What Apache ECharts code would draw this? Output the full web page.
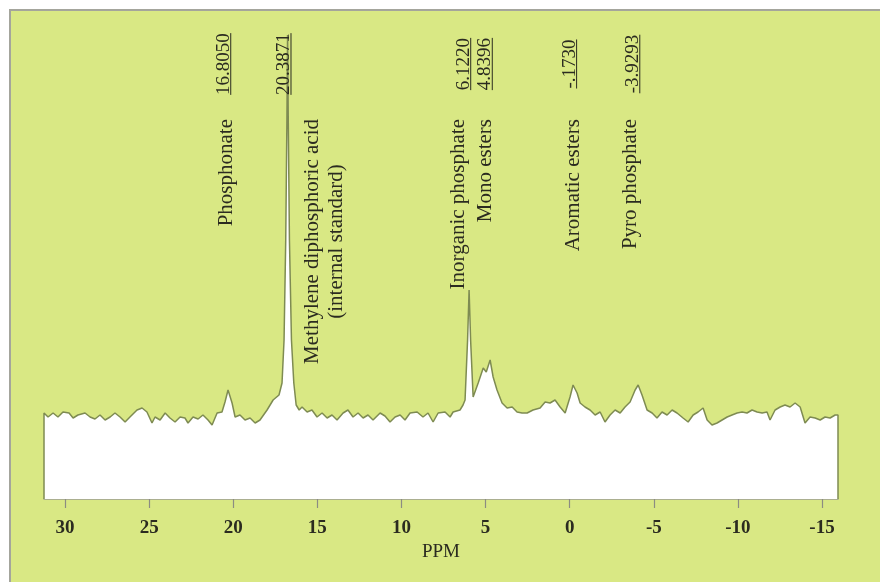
<!DOCTYPE html>
<html>
<head>
<meta charset="utf-8">
<title>31P NMR spectrum</title>
<script src="https://cdn.jsdelivr.net/npm/echarts@6/dist/echarts.min.js"></script>
<style>
  html, body { margin: 0; padding: 0; background: #ffffff; }
  #chart { width: 880px; height: 582px; }
</style>
</head>
<body>
<div id="chart"></div>
<script>
// Chemical shift (ppm) and signal intensity (arbitrary units) of the trace
const ppm = [
  31.25, 31.25, 31.01, 30.71, 30.42, 30.12, 29.76, 29.52, 29.23, 28.81,
  28.51, 28.22, 27.92, 27.62, 27.32, 27.03, 26.73, 26.43, 26.14, 25.72,
  25.42, 25.13, 24.83, 24.65, 24.35, 24.05, 23.76, 23.46, 23.16, 22.87,
  22.69, 22.39, 22.09, 21.80, 21.50, 21.26, 20.96, 20.67, 20.49, 20.31,
  20.07, 19.89, 19.60, 19.30, 19.00, 18.70, 18.41, 17.99, 17.63, 17.28,
  17.10, 16.98, 16.88, 16.81, 16.77, 16.73, 16.66, 16.54, 16.40, 16.26,
  16.08, 15.91, 15.61, 15.32, 15.02, 14.72, 14.42, 14.13, 13.83, 13.47,
  13.18, 12.88, 12.58, 12.28, 11.99, 11.69, 11.27, 10.98, 10.68, 10.38,
  10.08, 9.79, 9.49, 9.07, 8.72, 8.42, 8.12, 7.82, 7.41, 7.11,
  6.93, 6.52, 6.34, 6.22, 6.07, 5.98, 5.89, 5.74, 5.44, 5.14,
  4.96, 4.73, 4.55, 4.32, 4.02, 3.72, 3.42, 3.13, 2.83, 2.53,
  2.18, 1.76, 1.46, 1.17, 0.87, 0.57, 0.27, -0.02, -0.20, -0.44,
  -0.62, -0.91, -1.21, -1.51, -1.81, -2.10, -2.40, -2.70, -3.00, -3.29,
  -3.59, -3.89, -4.07, -4.30, -4.60, -4.90, -5.19, -5.49, -5.79, -6.09,
  -6.38, -6.74, -7.04, -7.34, -7.63, -7.93, -8.17, -8.46, -8.76, -9.06,
  -9.36, -9.65, -9.95, -10.25, -10.54, -10.84, -11.14, -11.44, -11.73, -11.91,
  -12.21, -12.51, -12.80, -13.10, -13.40, -13.70, -13.99, -14.29, -14.59, -14.89,
  -15.18, -15.48, -15.78, -15.95, -15.95
];
const intensity = [
  0, 21.5, 20.5, 21.5, 20.5, 21.75, 21.5, 20.25, 21, 21.5,
  20.5, 20, 21, 19.75, 20.5, 21.5, 20.5, 19.25, 20.5, 22.25,
  22.75, 21.75, 19, 20.5, 19.75, 21.5, 20.25, 19.25, 20.5, 20.25,
  19, 20.5, 20, 21, 19.75, 18.5, 21.5, 21.75, 24.25, 27.25,
  24, 20.5, 21, 19.75, 20.25, 19, 19.75, 22.25, 24.75, 26,
  29, 39.75, 64.75, 94.75, 116, 94.75, 64.75, 39.75, 29, 23.5,
  22.25, 23, 21.75, 22.25, 20.5, 21.5, 20.25, 21, 19.75, 21.5,
  22.25, 20.5, 21.5, 20.25, 21, 19.75, 21.5, 20.75, 19.25, 20.5,
  21, 19.75, 21.5, 21.75, 20.5, 21.5, 19.25, 21.5, 21.75, 20.5,
  21.75, 22.25, 23.5, 24.75, 39.75, 52.25, 39.75, 25.5, 29, 32.75,
  31.75, 34.75, 30.5, 27.25, 24, 22.75, 23, 21.75, 21.5, 21.5,
  22.25, 22.75, 24.25, 24, 24.75, 23, 21.5, 25.5, 28.5, 26.5,
  24, 23, 22.25, 21, 21.75, 19.25, 21, 22.25, 21.5, 23,
  24.25, 27.25, 28.5, 26, 22.25, 21.5, 20.25, 21.75, 21, 22.25,
  21.5, 20.25, 19.25, 21, 21.75, 22.75, 19.75, 18.5, 19, 19.75,
  20.5, 21, 21.5, 21.75, 21.5, 22.25, 21.75, 21.5, 21.75, 19.75,
  22.25, 23, 23.5, 23, 24, 23, 19, 20.5, 20.25, 19.75,
  20.5, 20.25, 21, 21, 0
];

// Axis range and tick labels
const ppmMin = -15.95;
const ppmMax = 31.25;
const ppmTicks = [30, 25, 20, 15, 10, 5, 0, -5, -10, -15];

// Peak annotations: where each sits on the shift axis, its printed value and its assignment
const shiftPos  = [20.3871, 16.8050, 6.1220, 4.8396, -0.1730, -3.9293];
const shiftText = ['16.8050', '20.3871', '6.1220', '4.8396', '-.1730', '-3.9293'];
const shiftName = [
  'Phosphonate',
  'Methylene diphosphoric acid\n(internal standard)',
  'Inorganic phosphate',
  'Mono esters',
  'Aromatic esters',
  'Pyro phosphate'
];

// ---- presentation ----
const INK = '#2b2b20';
const SERIF = '"Liberation Serif", "DejaVu Serif", serif';
const NUM_SIZE = 19;
const NAME_SIZE = 21;
const NUM_CENTER_Y = 64;    // centre of the rotated shift values
const NAME_TOP_Y = 119;     // upper end of the rotated assignments
const nameNudge = [0, 37, -8, -3, 1, -5];   // horizontal nudge of each assignment, px

const measureCtx = document.createElement('canvas').getContext('2d');
function textWidth(str, size) {
  measureCtx.font = size + 'px ' + SERIF;
  return measureCtx.measureText(str).width;
}

const chart = echarts.init(document.getElementById('chart'), null, { renderer: 'canvas' });

chart.setOption({
  animation: false,
  graphic: {
    elements: [{
      type: 'rect',
      z: -100,
      silent: true,
      shape: { x: 10, y: 10, width: 880, height: 582 },
      style: { fill: '#d9e884', stroke: '#a4a59c', lineWidth: 2 }
    }]
  },
  grid: { left: 44, right: 42, top: 19, bottom: 83 },
  xAxis: {
    type: 'value',
    inverse: true,
    min: ppmMin,
    max: ppmMax,
    name: 'PPM',
    nameLocation: 'middle',
    nameGap: 44,
    nameTextStyle: { fontFamily: SERIF, fontSize: 19, color: INK },
    splitLine: { show: false },
    axisLine: { show: true, lineStyle: { color: '#9c9c94', width: 1.5 } },
    axisTick: {
      show: true, length: 9, inside: false,
      customValues: ppmTicks,
      lineStyle: { color: '#8c8c82', width: 1.2 }
    },
    axisLabel: {
      customValues: ppmTicks,
      margin: 20,
      fontFamily: SERIF,
      fontSize: 19,
      fontWeight: 'bold',
      color: INK
    }
  },
  yAxis: {
    type: 'value',
    min: 0,
    max: 120,
    show: false
  },
  series: [
    {
      type: 'line',
      data: ppm.map((p, i) => [p, intensity[i]]),
      symbol: 'none',
      smooth: false,
      silent: true,
      lineStyle: { color: '#7e8b52', width: 1.5 },
      areaStyle: { color: '#ffffff', opacity: 1 },
      z: 2
    },
    {
      type: 'custom',
      coordinateSystem: 'cartesian2d',
      data: shiftPos.map(p => [p, 0]),
      clip: false,
      silent: true,
      z: 5,
      renderItem: function (params, api) {
        const i = params.dataIndex;
        const x = api.coord([api.value(0), 0])[0];
        const numW = textWidth(shiftText[i], NUM_SIZE);
        const lines = shiftName[i].split('\n');
        const nameW = Math.max.apply(null, lines.map(l => textWidth(l, NAME_SIZE)));
        return {
          type: 'group',
          children: [
            {
              type: 'text',
              x: x - 3,
              y: NUM_CENTER_Y,
              rotation: Math.PI / 2,
              style: {
                text: shiftText[i],
                fontFamily: SERIF, fontSize: NUM_SIZE,
                fill: INK, align: 'center', verticalAlign: 'middle'
              }
            },
            {
              type: 'line',
              shape: { x1: x + 4, y1: NUM_CENTER_Y - numW / 2, x2: x + 4, y2: NUM_CENTER_Y + numW / 2 },
              style: { stroke: INK, lineWidth: 1 }
            },
            {
              type: 'text',
              x: x + nameNudge[i],
              y: NAME_TOP_Y + nameW / 2,
              rotation: Math.PI / 2,
              style: {
                text: shiftName[i],
                fontFamily: SERIF, fontSize: NAME_SIZE, lineHeight: 24,
                fill: INK, align: 'center', verticalAlign: 'middle'
              }
            }
          ]
        };
      }
    }
  ]
});
</script>
</body>
</html>
